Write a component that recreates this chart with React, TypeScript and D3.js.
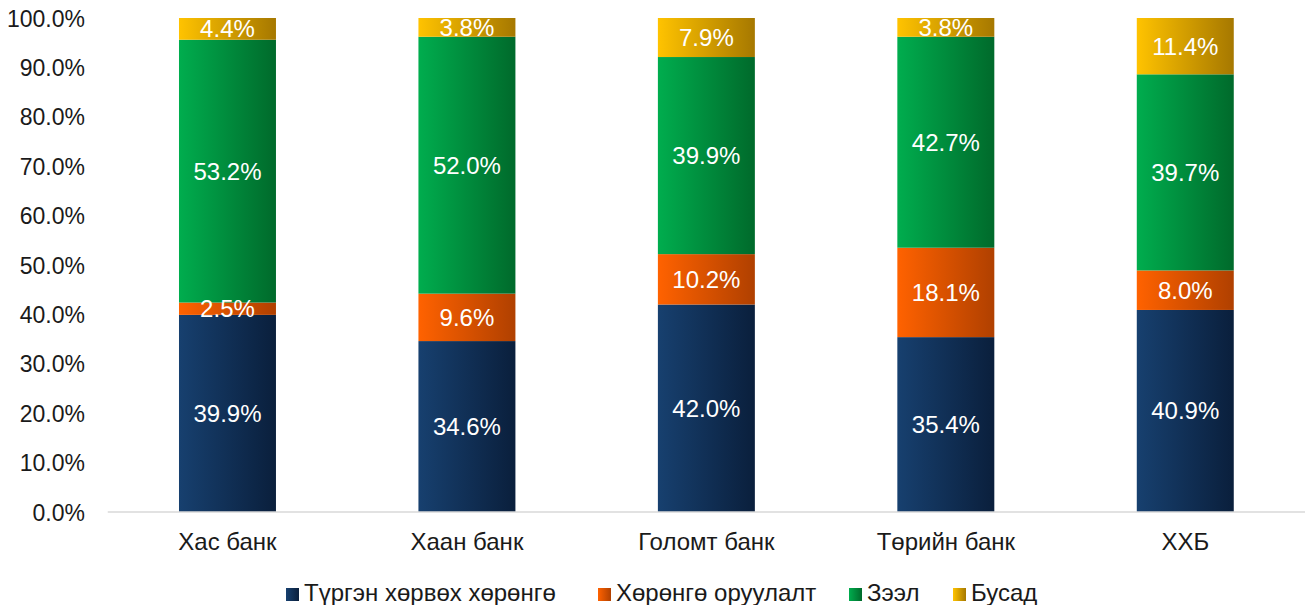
import React from "react";
import * as d3 from "d3";

const categories = ["Хас банк", "Хаан банк", "Голомт банк", "Төрийн банк", "ХХБ"];
const seriesNames = ["Түргэн хөрвөх хөрөнгө", "Хөрөнгө оруулалт", "Зээл", "Бусад"];
const liquid = [39.9, 34.6, 42.0, 35.4, 40.9];
const investment = [2.5, 9.6, 10.2, 18.1, 8.0];
const loans = [53.2, 52.0, 39.9, 42.7, 39.7];
const other = [4.4, 3.8, 7.9, 3.8, 11.4];
const yTicks = [0, 10, 20, 30, 40, 50, 60, 70, 80, 90, 100];

const gradients = [
  ["#17406f", "#0a1f3c"],
  ["#ff6200", "#b04000"],
  ["#00ad4e", "#006a2b"],
  ["#ffc300", "#a67800"],
];

export default function App() {
  const W = 1311, H = 605;
  const left = 107.75, right = 1305, top = 18, bottom = 512;
  const x = d3.scaleBand<string>().domain(categories).range([left, right]).paddingInner(0.595).paddingOuter(0.2975);
  const y = d3.scaleLinear().domain([0, 100]).range([bottom, top]);
  const series = [liquid, investment, loans, other];
  const font = "Arial, 'Liberation Sans', sans-serif";

  const rows = categories.map((c, i) => {
    const o: any = { cat: c };
    series.forEach((s, k) => (o["s" + k] = s[i]));
    return o;
  });
  const stack = d3.stack<any>().keys(["s0", "s1", "s2", "s3"])(rows);

  const legendX = [286, 598, 849, 953];

  return (
    <svg width={W} height={H} style={{ position: "absolute", left: 0, top: 0, fontFamily: font }}>
      <defs>
        {gradients.map((g, k) => (
          <linearGradient key={k} id={"g" + k} x1="0" x2="1" y1="0" y2="0">
            <stop offset="0" stopColor={g[0]} />
            <stop offset="1" stopColor={g[1]} />
          </linearGradient>
        ))}
      </defs>
      {yTicks.map((t) => (
        <text key={t} x={85} y={y(t) + 8.5} textAnchor="end" fontSize={23} fill="#1a1a1a">
          {t.toFixed(1) + "%"}
        </text>
      ))}
      {stack.map((layer, k) =>
        layer.map((d, i) => (
          <rect
            key={k + "-" + i}
            x={x(categories[i])!}
            y={y(d[1])}
            width={x.bandwidth()}
            height={y(d[0]) - y(d[1])}
            fill={`url(#g${k})`}
          />
        ))
      )}
      {stack.map((layer, k) =>
        layer.map((d, i) => (
          <text
            key={"l" + k + "-" + i}
            x={x(categories[i])! + x.bandwidth() / 2}
            y={y((d[0] + d[1]) / 2) + 8.5}
            textAnchor="middle"
            fontSize={24}
            fill="#ffffff"
          >
            {series[k][i].toFixed(1) + "%"}
          </text>
        ))
      )}
      <line x1={left} x2={right} y1={bottom} y2={bottom} stroke="#d9d9d9" strokeWidth={1.5} />
      {categories.map((c) => (
        <text key={c} x={x(c)! + x.bandwidth() / 2} y={550} textAnchor="middle" fontSize={24} fill="#1a1a1a">
          {c}
        </text>
      ))}
      {seriesNames.map((n, k) => (
        <g key={n}>
          <rect x={legendX[k]} y={588} width={13} height={13} fill={`url(#g${k})`} />
          <text x={legendX[k] + 18} y={601} fontSize={24} fill="#1a1a1a">
            {n}
          </text>
        </g>
      ))}
    </svg>
  );
}
